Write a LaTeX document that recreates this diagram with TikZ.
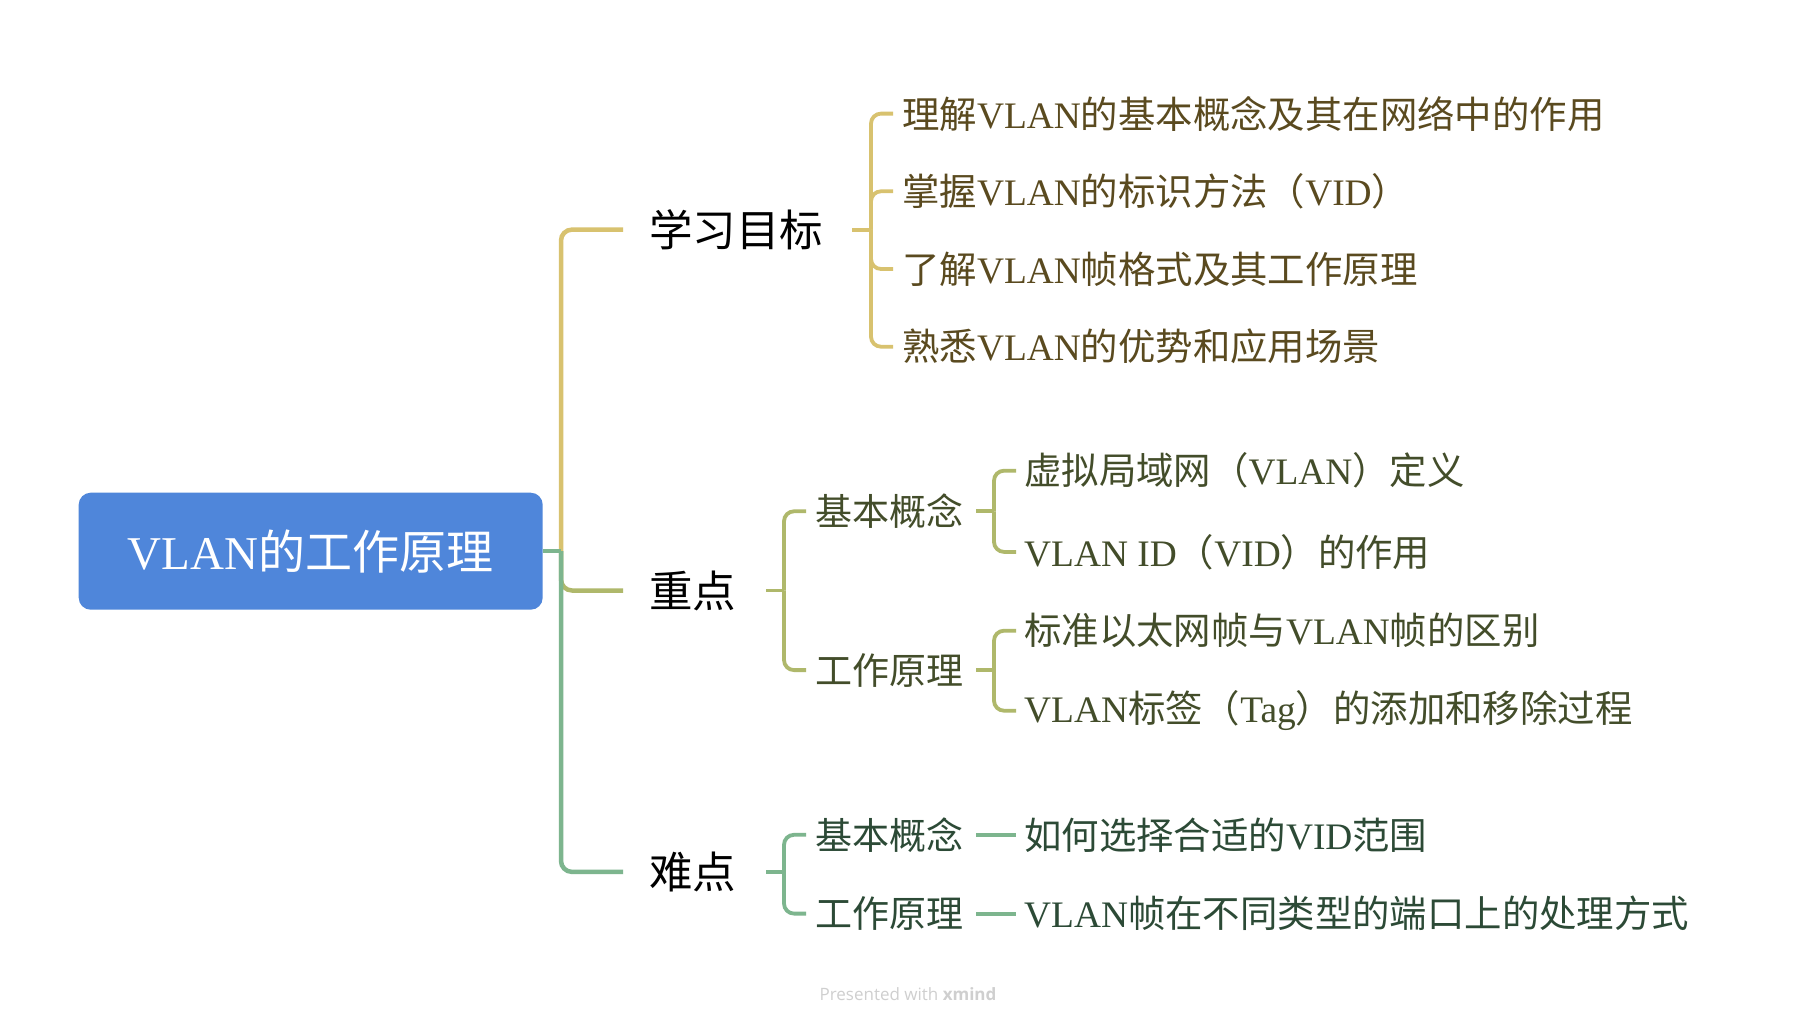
\documentclass[tikz,border=0pt]{standalone}
\usepackage{fontspec}
\setmainfont{Noto Sans CJK SC}
\newfontfamily\latinrm{Liberation Serif}
\newfontfamily\wmfont{Open Sans}
\newcommand{\latn}[1]{{\latinrm #1}}
\usetikzlibrary{positioning,calc}
\definecolor{mBlue}  {HTML}{4F86DA}
\definecolor{mGold}  {HTML}{D8C26F}
\definecolor{mOlive} {HTML}{AFB86B}
\definecolor{mGreen} {HTML}{7DB58E}
\definecolor{tGold}  {HTML}{5A4A1F}
\definecolor{tOlive} {HTML}{434D2A}
\definecolor{tGreen} {HTML}{2C4A36}
\definecolor{mWm}    {HTML}{CFCFCF}

\begin{document}
\begin{tikzpicture}[
  x=1pt, y=-1pt,
  root/.style={rounded corners=12pt, fill=mBlue, text=white, inner sep=0pt,
               minimum width=464pt, minimum height=117pt,
               font=\fontsize{47}{56}\selectfont},
  lvA/.style={anchor=west, inner sep=0pt, text=black, font=\fontsize{43.5}{52}\selectfont},
  lvB/.style={anchor=west, inner sep=0pt, font=\fontsize{37}{44}\selectfont},
  leaf/.style={anchor=west, inner sep=0pt, font=\fontsize{37.4}{45}\selectfont},
  brA/.style={line width=4.5pt, rounded corners=11pt},
  brB/.style={line width=3.8pt, rounded corners=10pt},
]
\fill[white] (0,0) rectangle (1818,1025);

% ---------------------------------------------------------------- root
\node[root] at (310.7,551.2) (root) {\latn{VLAN}的工作原理};
\coordinate (tk) at (561,551.2);

% ---------------------------------------------------------------- first level
\node[lvA] at (649,229.6) (goal) {学习目标};
\node[lvA] at (649,590.5) (key)  {重点};
\node[lvA] at (649,871.9) (hard) {难点};

% ---------------------------------------------------------------- 学习目标
\node[leaf, text=tGold] at (902,113.6) (g1) {理解\latn{VLAN}的基本概念及其在网络中的作用};
\node[leaf, text=tGold] at (902,191.3) (g2) {掌握\latn{VLAN}的标识方法（\latn{VID}）};
\node[leaf, text=tGold] at (902,269.0) (g3) {了解\latn{VLAN}帧格式及其工作原理};
\node[leaf, text=tGold] at (902,346.7) (g4) {熟悉\latn{VLAN}的优势和应用场景};
\coordinate (bG) at (871,229.6);

% ---------------------------------------------------------------- 重点
\node[lvB, text=tOlive] at (815,511.3) (k1) {基本概念};
\node[lvB, text=tOlive] at (815,670.1) (k2) {工作原理};
\coordinate (bK) at (784,590.5);
\node[leaf, text=tOlive] at (1024,470.7) (k1a) {虚拟局域网（\latn{VLAN}）定义};
\node[leaf, text=tOlive] at (1024,551.9) (k1b) {\latn{VLAN ID}（\latn{VID}）的作用};
\node[leaf, text=tOlive] at (1024,630.7) (k2a) {标准以太网帧与\latn{VLAN}帧的区别};
\node[leaf, text=tOlive] at (1024,710.7) (k2b) {\latn{VLAN}标签（\latn{Tag}）的添加和移除过程};
\coordinate (bK1) at (994,511.3);
\coordinate (bK2) at (994,670.1);

% ---------------------------------------------------------------- 难点
\node[lvB, text=tGreen] at (815,834.8) (h1) {基本概念};
\node[lvB, text=tGreen] at (815,913.6) (h2) {工作原理};
\coordinate (bH) at (784,871.9);
\node[leaf, text=tGreen] at (1024,834.8) (h1a) {如何选择合适的\latn{VID}范围};
\node[leaf, text=tGreen] at (1024,913.6) (h2a) {\latn{VLAN}帧在不同类型的端口上的处理方式};

% ---------------------------------------------------------------- branches
\draw[brA, draw=mGold]  (tk) |- ([xshift=-26pt]goal.west);
\draw[brA, draw=mOlive] (tk) |- ([xshift=-26pt]key.west);
\draw[brA, draw=mGreen] (tk) |- ([xshift=-26pt]hard.west);
\draw[brA, draw=mGreen] (root.east) -- (tk);

\draw[brB, draw=mGold] ([xshift=29pt]goal.east) -- (bG);
\foreach \c in {g1,g2,g3,g4}
  \draw[brB, draw=mGold] (bG) |- ([xshift=-9pt]\c.west);

\draw[brB, draw=mOlive] ([xshift=30pt]key.east) -- (bK);
\foreach \c in {k1,k2}
  \draw[brB, draw=mOlive] (bK) |- ([xshift=-9pt]\c.west);
\draw[brB, draw=mOlive] ([xshift=13pt]k1.east) -- (bK1);
\draw[brB, draw=mOlive] ([xshift=13pt]k2.east) -- (bK2);
\foreach \c in {k1a,k1b}
  \draw[brB, draw=mOlive] (bK1) |- ([xshift=-8pt]\c.west);
\foreach \c in {k2a,k2b}
  \draw[brB, draw=mOlive] (bK2) |- ([xshift=-8pt]\c.west);

\draw[brB, draw=mGreen] ([xshift=30pt]hard.east) -- (bH);
\foreach \c in {h1,h2}
  \draw[brB, draw=mGreen] (bH) |- ([xshift=-9pt]\c.west);
\draw[brB, draw=mGreen] ([xshift=13pt]h1.east) -- ([xshift=-8pt]h1a.west);
\draw[brB, draw=mGreen] ([xshift=13pt]h2.east) -- ([xshift=-8pt]h2a.west);

% watermark
\node[font=\wmfont\fontsize{17}{20}\selectfont, text=mWm] at (908,994) (wm)
  {Presented with \textbf{xmind}};

\end{tikzpicture}
\end{document}
